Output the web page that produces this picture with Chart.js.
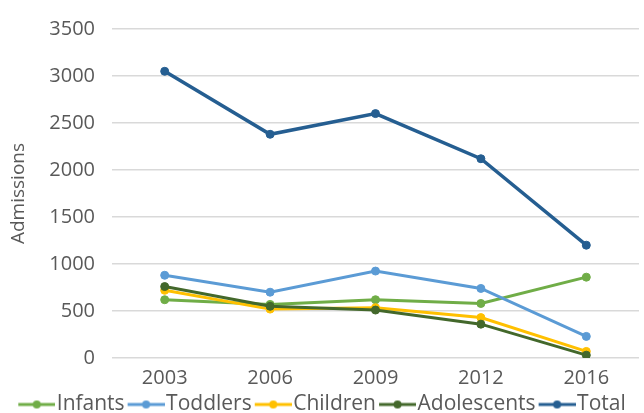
<!DOCTYPE html>
<html>
<head>
<meta charset="utf-8">
<script src="https://cdn.jsdelivr.net/npm/chart.js@4"></script>
<style>
  html, body { margin: 0; padding: 0; background: #fff; }
  #wrap { width: 644px; height: 413px; }
</style>
</head>
<body>
<div id="wrap"><canvas id="chart" width="644" height="413"></canvas></div>
<script>
// Admissions by age group, survey years
const years = ['2003', '2006', '2009', '2012', '2016'];
const infants = [620, 570, 620, 580, 860];
const toddlers = [880, 700, 925, 740, 230];
const children = [720, 520, 535, 430, 70];
const adolescents = [760, 550, 510, 360, 30];
const total = [3050, 2380, 2600, 2120, 1200];

const seriesNames = ['Infants', 'Toddlers', 'Children', 'Adolescents', 'Total'];
const seriesColors = ['#70AD47', '#5B9BD5', '#FFC000', '#43682B', '#255E91'];
const yTicks = [0, 500, 1000, 1500, 2000, 2500, 3000, 3500];

const FONT = '"Open Sans", "Liberation Sans", sans-serif';
const TEXT = '#595959';

// Legend marker: a short line with a dot in the middle, drawn offset to the right
function makeLegendIcon(color) {
  const c = document.createElement('canvas');
  c.width = 46; c.height = 12;
  const g = c.getContext('2d');
  g.strokeStyle = color;
  g.lineWidth = 3;
  g.beginPath();
  g.moveTo(9, 6);
  g.lineTo(46, 6);
  g.stroke();
  g.fillStyle = color;
  g.beginPath();
  g.arc(27.5, 6, 4, 0, Math.PI * 2);
  g.fill();
  return c;
}
const legendIcons = seriesColors.map(makeLegendIcon);

const values = [infants, toddlers, children, adolescents, total];
const datasets = values.map((data, i) => ({
  label: seriesNames[i],
  data: data,
  borderColor: seriesColors[i],
  backgroundColor: seriesColors[i],
  borderWidth: i === 4 ? 3.5 : 3,
  pointRadius: 4,
  pointBorderWidth: 1,
  pointHoverRadius: 4,
  tension: 0,
  fill: false,
  order: 5 - i
}));

new Chart(document.getElementById('chart'), {
  type: 'line',
  data: { labels: years, datasets: datasets },
  options: {
    responsive: false,
    animation: false,
    layout: { padding: { top: 10, right: 0, bottom: -12, left: 0 } },
    scales: {
      x: {
        offset: true,
        afterFit: (scale) => { scale.height = 33; },
        grid: { display: false, drawTicks: false },
        border: { display: false },
        ticks: { color: TEXT, font: { family: FONT, size: 20 }, padding: 8 }
      },
      y: {
        min: 0,
        max: 3500,
        afterFit: (scale) => { scale.width = 112; },
        afterBuildTicks: (scale) => { scale.ticks = yTicks.map(v => ({ value: v })); },
        grid: { color: '#D9D9D9', lineWidth: 1.5, drawTicks: false },
        border: { display: false },
        ticks: {
          color: TEXT,
          font: { family: FONT, size: 20 },
          padding: 17,
          callback: (v) => String(v)
        },
        title: {
          display: true,
          text: 'Admissions',
          color: TEXT,
          font: { family: FONT, size: 19 },
          padding: { top: 7, bottom: 0 }
        }
      }
    },
    plugins: {
      tooltip: { enabled: false },
      legend: {
        position: 'bottom',
        labels: {
          usePointStyle: true,
          pointStyleWidth: 28,
          boxHeight: 12,
          padding: 3,
          color: TEXT,
          font: { family: FONT, size: 21 },
          sort: (a, b) => a.datasetIndex - b.datasetIndex,
          generateLabels: (chart) => {
            const items = Chart.defaults.plugins.legend.labels.generateLabels(chart);
            items.forEach(it => { it.pointStyle = legendIcons[it.datasetIndex]; it.lineWidth = 0; });
            return items;
          }
        }
      }
    }
  }
});
</script>
</body>
</html>
